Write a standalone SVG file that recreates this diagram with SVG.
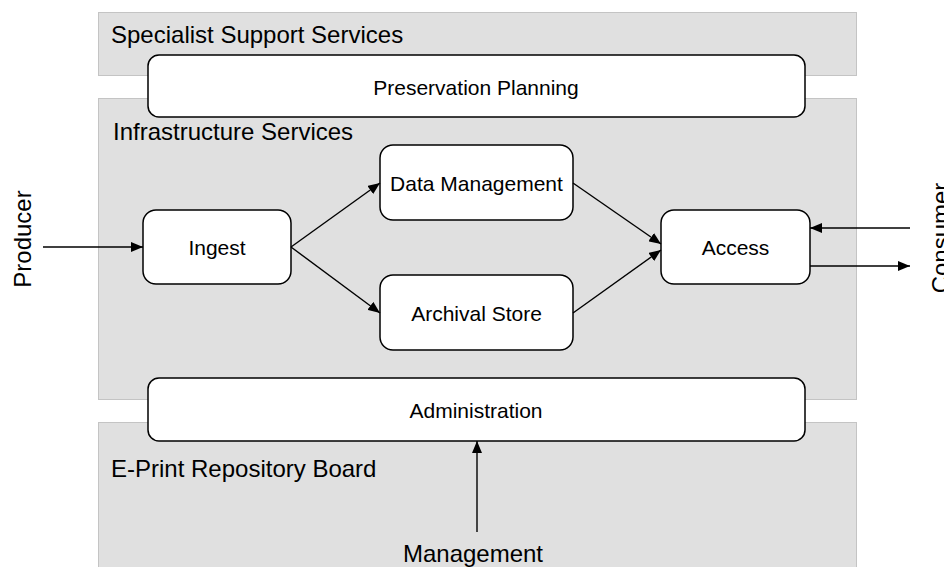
<svg xmlns="http://www.w3.org/2000/svg" width="944" height="567" viewBox="0 0 944 567">
<style>
.band{fill:#e0e0e0;stroke:#c4c4c4;stroke-width:1}
.node{fill:#ffffff;stroke:#000000;stroke-width:1.5}
.lbl{font-family:"Liberation Sans",Arial,sans-serif;font-size:24px;fill:#000}
.txt{font-family:"Liberation Sans",Arial,sans-serif;font-size:21px;fill:#000;text-anchor:middle;dominant-baseline:central}
.conn{stroke:#000;stroke-width:1.4;fill:none;marker-end:url(#ah)}
</style>
<defs>
<marker id="ah" viewBox="0 0 12 10" refX="12" refY="5" markerWidth="12" markerHeight="10" markerUnits="userSpaceOnUse" orient="auto">
<path d="M0,0 L12,5 L0,10 Z" fill="#000"/>
</marker>
</defs>
<rect width="944" height="567" fill="#ffffff"/>
<g id="specialist-support-services">
<rect class="band" x="98.5" y="12.5" width="758" height="63"/>
<text class="lbl" x="111" y="43">Specialist Support Services</text>
</g>
<g id="infrastructure-services">
<rect class="band" x="98.5" y="98.5" width="758" height="301"/>
<text class="lbl" x="113" y="140">Infrastructure Services</text>
</g>
<g id="eprint-repository-board">
<rect class="band" x="98.5" y="422.5" width="758" height="160"/>
<text class="lbl" x="111" y="477">E-Print Repository Board</text>
</g>
<g id="preservation-planning">
<rect class="node" x="148" y="55" width="657" height="62" rx="11"/>
<text class="txt" x="476" y="87">Preservation Planning</text>
</g>
<g id="administration">
<rect class="node" x="148" y="378" width="657" height="63" rx="11"/>
<text class="txt" x="476" y="410">Administration</text>
</g>
<g id="ingest">
<rect class="node" x="143" y="210" width="148" height="74" rx="13"/>
<text class="txt" x="217" y="247">Ingest</text>
</g>
<g id="data-management">
<rect class="node" x="380" y="145" width="193" height="75" rx="13"/>
<text class="txt" x="476.5" y="183">Data Management</text>
</g>
<g id="archival-store">
<rect class="node" x="380" y="275" width="193" height="75" rx="13"/>
<text class="txt" x="476.5" y="313">Archival Store</text>
</g>
<g id="access">
<rect class="node" x="661" y="210" width="149" height="74" rx="13"/>
<text class="txt" x="735.5" y="247">Access</text>
</g>
<g id="producer">
<text class="lbl" text-anchor="middle" transform="translate(31,239) rotate(-90)">Producer</text>
</g>
<g id="consumer">
<text class="lbl" text-anchor="middle" transform="translate(949,238) rotate(-90)">Consumer</text>
</g>
<g id="management">
<text class="lbl" text-anchor="middle" x="473" y="562">Management</text>
</g>
<g id="connectors">
<line class="conn" x1="43" y1="247" x2="143" y2="247"/>
<line class="conn" x1="291" y1="247" x2="380" y2="183"/>
<line class="conn" x1="291" y1="247" x2="380" y2="313"/>
<line class="conn" x1="573" y1="183" x2="661" y2="244"/>
<line class="conn" x1="573" y1="313" x2="661" y2="250"/>
<line class="conn" x1="910" y1="228" x2="810" y2="228"/>
<line class="conn" x1="810" y1="266" x2="910" y2="266"/>
<line class="conn" x1="477" y1="532" x2="477" y2="441"/>
</g>
</svg>
